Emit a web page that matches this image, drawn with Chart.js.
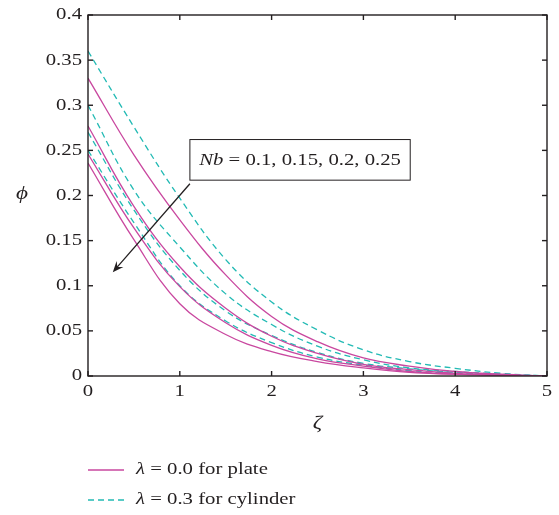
<!DOCTYPE html>
<html>
<head>
<meta charset="utf-8">
<script src="https://cdn.jsdelivr.net/npm/chart.js@4"></script>
<style>
body{margin:0;background:#fff}
</style>
</head>
<body>
<canvas id="grafica" width="559" height="515"></canvas>
<script>
const zeta = [0, 0.5, 1, 1.5, 2, 2.5, 3, 3.5, 4, 4.5, 5]

// lambda = 0.0 (placa), Nb = 0.1, 0.15, 0.2, 0.25
const placa1 = [0.330, 0.245, 0.173, 0.112, 0.066, 0.038, 0.020, 0.011, 0.005, 0.002, 0]
const placa2 = [0.277, 0.188, 0.121, 0.075, 0.044, 0.025, 0.013, 0.007, 0.003, 0.001, 0]
const placa3 = [0.246, 0.164, 0.099, 0.059, 0.034, 0.019, 0.011, 0.005, 0.002, 0.001, 0]
const placa4 = [0.236, 0.151, 0.080, 0.046, 0.027, 0.016, 0.009, 0.004, 0.002, 0.001, 0]

// lambda = 0.3 (cilindro)
const cil1 = [0.360, 0.276, 0.197, 0.129, 0.082, 0.051, 0.029, 0.016, 0.0085, 0.003, 0]
const cil2 = [0.300, 0.206, 0.143, 0.091, 0.057, 0.033, 0.018, 0.009, 0.005, 0.002, 0]
const cil3 = [0.270, 0.184, 0.117, 0.072, 0.045, 0.026, 0.014, 0.008, 0.004, 0.0015, 0]
const cil4 = [0.250, 0.170, 0.100, 0.061, 0.037, 0.021, 0.012, 0.006, 0.003, 0.001, 0]

const ticksX = [0, 1, 2, 3, 4, 5]
const ticksY = [0, 0.05, 0.1, 0.15, 0.2, 0.25, 0.3, 0.35, 0.4]

const leyenda = ['\u03bb = 0.0 for plate', '\u03bb = 0.3 for cylinder']
const textoNb = ['Nb', ' = 0.1, 0.15, 0.2, 0.25']

const colorPlaca = '#c9479f'
const colorCil = '#22bab4'
const negro = '#231f20'
const fuente = '"Liberation Serif", "DejaVu Serif", serif'
const ancho = 1.22 // la tipografia original es mas ancha

function puntos(vals){
  return vals.map((v, i) => ({x: zeta[i], y: v}))
}

function serie(vals, cilindro){
  return {
    data: puntos(vals),
    borderColor: cilindro ? colorCil : colorPlaca,
    borderWidth: 1.3,
    borderDash: cilindro ? [6, 4] : [],
    pointRadius: 0,
    fill: false,
    tension: 0.4
  }
}

function linea(ctx, x1, y1, x2, y2){
  ctx.beginPath()
  ctx.moveTo(x1, y1)
  ctx.lineTo(x2, y2)
  ctx.stroke()
}

// texto ensanchado en horizontal
function texto(ctx, str, x, y, align, font){
  ctx.save()
  ctx.font = font
  ctx.textAlign = align
  ctx.textBaseline = 'middle'
  ctx.translate(x, y)
  ctx.scale(ancho, 1)
  ctx.fillText(str, 0, 0)
  ctx.restore()
}

function medir(ctx, str, font){
  ctx.font = font
  return ctx.measureText(str).width * ancho
}

// marco con marcas hacia dentro, etiquetas, titulos, recuadro, flecha y leyenda
const marco = {
  id: 'marco',
  afterDraw(chart){
    const ctx = chart.ctx
    const a = chart.chartArea
    const x = chart.scales.x
    const y = chart.scales.y
    const normal = '17px ' + fuente
    const cursiva = 'italic 17px ' + fuente
    ctx.save()
    ctx.strokeStyle = negro
    ctx.fillStyle = negro
    ctx.lineWidth = 1.4
    ctx.strokeRect(a.left, a.top, a.right - a.left, a.bottom - a.top)

    ticksX.forEach(v => {
      const px = x.getPixelForValue(v)
      linea(ctx, px, a.bottom, px, a.bottom - 5)
      linea(ctx, px, a.top, px, a.top + 5)
      texto(ctx, String(v), px, a.bottom + 16, 'center', normal)
    })
    ticksY.forEach(v => {
      const py = y.getPixelForValue(v)
      linea(ctx, a.left, py, a.left + 5, py)
      linea(ctx, a.right, py, a.right - 5, py)
      texto(ctx, String(+v.toFixed(2)), a.left - 6, py, 'right', normal)
    })

    // titulos de ejes
    texto(ctx, '\u03d5', 22, y.getPixelForValue(0.2) - 2, 'center', 'italic 19px ' + fuente)
    texto(ctx, '\u03b6', (a.left + a.right) / 2, 424, 'center', 'italic 19px ' + fuente)

    // recuadro Nb
    const bx1 = x.getPixelForValue(1.11), bx2 = x.getPixelForValue(3.51)
    const by1 = y.getPixelForValue(0.262), by2 = y.getPixelForValue(0.217)
    ctx.fillStyle = '#fff'
    ctx.fillRect(bx1, by1, bx2 - bx1, by2 - by1)
    ctx.lineWidth = 1
    ctx.strokeRect(bx1, by1, bx2 - bx1, by2 - by1)
    ctx.fillStyle = negro
    const w1 = medir(ctx, textoNb[0], cursiva)
    const w2 = medir(ctx, textoNb[1], normal)
    const tx = (bx1 + bx2) / 2 - (w1 + w2) / 2
    const ty = (by1 + by2) / 2 + 1
    texto(ctx, textoNb[0], tx, ty, 'left', cursiva)
    texto(ctx, textoNb[1], tx + w1, ty, 'left', normal)

    // flecha
    const ax1 = x.getPixelForValue(1.11), ay1 = y.getPixelForValue(0.213)
    const ax2 = x.getPixelForValue(0.27), ay2 = y.getPixelForValue(0.115)
    const ang = Math.atan2(ay2 - ay1, ax2 - ax1)
    const c = Math.cos(ang), s = Math.sin(ang)
    ctx.lineWidth = 1.3
    linea(ctx, ax1, ay1, ax2 - 6 * c, ay2 - 6 * s)
    ctx.beginPath()
    ctx.moveTo(ax2, ay2)
    ctx.lineTo(ax2 - 11 * c + 4.5 * s, ay2 - 11 * s - 4.5 * c)
    ctx.lineTo(ax2 - 7 * c, ay2 - 7 * s)
    ctx.lineTo(ax2 - 11 * c - 4.5 * s, ay2 - 11 * s + 4.5 * c)
    ctx.closePath()
    ctx.fill()

    // leyenda
    const filas = [470, 500]
    filas.forEach((fy, i) => {
      ctx.strokeStyle = i == 0 ? colorPlaca : colorCil
      ctx.lineWidth = 1.3
      ctx.setLineDash(i == 0 ? [] : [6, 4])
      linea(ctx, 88, fy, 124, fy)
      ctx.setLineDash([])
      const wl = medir(ctx, '\u03bb', cursiva)
      texto(ctx, '\u03bb', 136, fy, 'left', cursiva)
      texto(ctx, leyenda[i].slice(1), 136 + wl, fy, 'left', normal)
    })
    ctx.restore()
  }
}

new Chart(document.getElementById('grafica'), {
  type: 'line',
  data: {
    datasets: [
      serie(placa1, false), serie(placa2, false), serie(placa3, false), serie(placa4, false),
      serie(cil1, true), serie(cil2, true), serie(cil3, true), serie(cil4, true)
    ]
  },
  options: {
    responsive: false,
    animation: false,
    layout: {padding: {left: 0, top: 15, right: 12, bottom: 0}},
    plugins: {legend: {display: false}, tooltip: {enabled: false}},
    scales: {
      x: {
        type: 'linear',
        min: 0,
        max: 5,
        afterFit(s){ s.height = 139 },
        grid: {display: false},
        border: {display: false},
        ticks: {display: false, stepSize: 1}
      },
      y: {
        min: 0,
        max: 0.4,
        afterFit(s){ s.width = 88 },
        grid: {display: false},
        border: {display: false},
        ticks: {display: false, stepSize: 0.05}
      }
    }
  },
  plugins: [marco]
})
</script>
</body>
</html>
